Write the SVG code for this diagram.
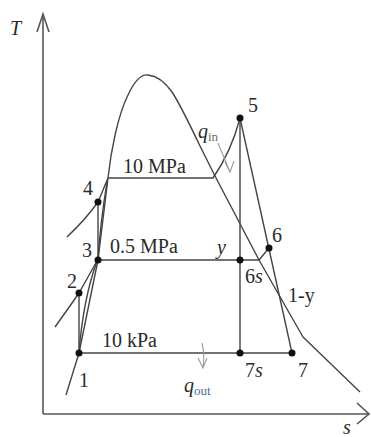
<svg xmlns="http://www.w3.org/2000/svg" width="371" height="437" viewBox="0 0 371 437">
<defs>
<style>
.ax{fill:none;stroke:#555;stroke-width:1.6}
.ln{fill:none;stroke:#444;stroke-width:1.4;stroke-linejoin:round}
.ar{fill:none;stroke:#999;stroke-width:1.1}
.dot{fill:#111}
text{font-family:"Liberation Serif","Times New Roman",serif;font-size:20px;fill:#2a2a2a}
.it{font-style:italic}
.sub{font-size:13px}
text.sin{fill:#7a6a60}
text.sout{fill:#4a6a9a}
</style>
</defs>
<rect width="371" height="437" fill="#fff"/>
<g id="axes">
<path class="ax" d="M43,414 L43,14"/>
<path class="ax" d="M37,32 L43,14 L49,32"/>
<path class="ax" d="M43,414 L369,414"/>
<path class="ax" d="M357,403 L369,414 L357,424"/>
<text class="it" x="10" y="35">T</text>
<text class="it" x="343" y="434">s</text>
</g>
<g id="connectors">
<path id="dome" class="ln" d="M66,395 L79,353 L98,260 L108,178 C111,150 118,115 128,95 C135,80 142,74 148,75 C158,76 165,82 172,92 C180,104 190,125 200,146 L215,176 L259,260 L303,337 L360,392"/>
<path class="ln" d="M108,178 L213,178 C222,165 233,145 240,118"/>
<path class="ln" d="M98,260 L259,260 L269,248"/>
<path class="ln" d="M79,353 L292,353"/>
<path class="ln" d="M240,118 L240,353"/>
<path class="ln" d="M240,118 L292,353"/>
<path class="ln" d="M79,353 L79,293"/>
<path class="ln" d="M79,353 Q83,300 97,261"/>
<path class="ln" d="M55,327 Q70,306 79,293 L97,261"/>
<path class="ln" d="M98,260 L98,202"/>
<path class="ln" d="M98,260 Q100,225 107,182"/>
<path class="ln" d="M67,237 Q86,219 98,202 L108,178"/>
<path class="ar" d="M218,143 L230,172 M225,162 L230,172 L234,161"/>
<path class="ar" d="M202,343 Q205,355 203,368 M198,358 L203,368 L207,358"/>
</g>
<g id="n1"><circle class="dot" cx="79" cy="353" r="3.5"/><text x="79" y="387">1</text></g>
<g id="n2"><circle class="dot" cx="79" cy="293" r="3.5"/><text x="67" y="288">2</text></g>
<g id="n3"><circle class="dot" cx="98" cy="260" r="3.5"/><text x="82" y="257">3</text></g>
<g id="n4"><circle class="dot" cx="98" cy="202" r="3.5"/><text x="83" y="195">4</text></g>
<g id="n5"><circle class="dot" cx="240" cy="118" r="3.5"/><text x="248" y="112">5</text></g>
<g id="n6"><circle class="dot" cx="269" cy="248" r="3.5"/><text x="272" y="242">6</text></g>
<g id="n6s"><circle class="dot" cx="240" cy="260" r="3.5"/><text x="245" y="283">6<tspan class="it">s</tspan></text></g>
<g id="n7s"><circle class="dot" cx="240" cy="353" r="3.5"/><text x="245" y="377">7<tspan class="it">s</tspan></text></g>
<g id="n7"><circle class="dot" cx="292" cy="353" r="3.5"/><text x="298" y="377">7</text></g>
<g id="labels">
<text x="123" y="173">10 MPa</text>
<text x="110" y="253">0.5 MPa</text>
<text x="102" y="347">10 kPa</text>
<text class="it" x="217" y="254">y</text>
<text x="288" y="302">1-y</text>
<text class="it" x="198" y="138">q</text><text class="sub sin" x="208" y="141">in</text>
<text class="it" x="184" y="392">q</text><text class="sub sout" x="194" y="395">out</text>
</g>
</svg>
